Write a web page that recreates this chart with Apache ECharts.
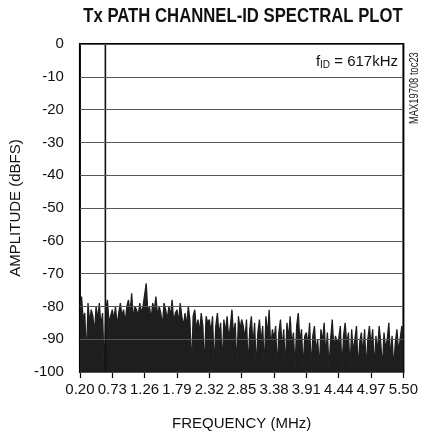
<!DOCTYPE html>
<html>
<head>
<meta charset="utf-8">
<script src="https://cdn.jsdelivr.net/npm/echarts@6/dist/echarts.min.js"></script>
<style>
html,body{margin:0;padding:0;background:#fff;}
#c{width:421px;height:436px;}
</style>
</head>
<body>
<div id="c"></div>
<script>
// ---- data ----
const titleText = 'Tx PATH CHANNEL-ID SPECTRAL PLOT';
const xTickLabels = ['0.20','0.73','1.26','1.79','2.32','2.85','3.38','3.91','4.44','4.97','5.50'];
const yTickLabels = ['0','-10','-20','-30','-40','-50','-60','-70','-80','-90','-100'];
const fStartMHz = 0.20;
const fStopMHz = 5.50;
const toneFreqMHz = 0.617;
const toneLevelDb = 0;
// noise floor amplitudes (dBFS), evenly spaced FFT bins from 0.20 to 5.50 MHz
const noiseDb = [
  -80,-77,-84,-82,-96,-79,-85,-81,-83,-88,-80,-84,-79,-86,-82,-99,-81,-78,-85,-83,
  -81,-84,-80,-86,-82,-79,-83,-81,-85,-80,-78,-82,-76,-84,-80,-81,-83,-79,-82,-80,
  -80,-73,-82,-80,-84,-79,-81,-77,-83,-80,-82,-86,-79,-81,-84,-80,-83,-78,-85,-82,
  -81,-85,-79,-83,-86,-82,-86,-80,-84,-99,-83,-81,-87,-84,-88,-82,-86,-99,-83,-85,
  -84,-88,-83,-99,-86,-82,-89,-85,-98,-84,-88,-83,-90,-86,-81,-89,-85,-99,-83,-87,
  -84,-86,-90,-84,-99,-87,-83,-92,-85,-99,-88,-84,-91,-86,-99,-83,-89,-81,-93,-87,
  -90,-86,-99,-88,-84,-93,-87,-99,-85,-90,-83,-92,-88,-99,-86,-82,-91,-87,-99,-89,
  -88,-92,-85,-99,-89,-86,-94,-90,-99,-87,-91,-85,-95,-88,-99,-90,-84,-93,-89,-91,
  -90,-86,-99,-89,-85,-92,-88,-99,-87,-94,-90,-86,-99,-91,-88,-95,-87,-99,-90,-86,
  -92,-87,-99,-89,-94,-86,-91,-99,-88,-93,-90,-85,-96,-89,-99,-91,-87,-94,-90,-86,-88
];

const FONT = "'Liberation Sans',Arial,sans-serif";
const binMHz = (fStopMHz - fStartMHz) / (noiseDb.length - 1);
const noiseData = noiseDb.map((v, i) => [i * binMHz, v]);
const toneData = [[toneFreqMHz - fStartMHz, -100], [toneFreqMHz - fStartMHz, toneLevelDb]];
const span = fStopMHz - fStartMHz;
const step = span / (xTickLabels.length - 1);

const chart = echarts.init(document.getElementById('c'), null, {renderer: 'canvas'});
chart.setOption({
  animation: false,
  backgroundColor: '#fff',
  graphic: [
    {type: 'text', x: 243, y: 16, scaleX: 0.835, style: {text: titleText, fontFamily: FONT, fontWeight: 'bold', fontSize: 20, fill: '#111', align: 'center', verticalAlign: 'middle'}},
    {type: 'text', x: 398, y: 62, style: {rich: {a: {fontFamily: FONT, fontSize: 15, fill: '#111'}, s: {fontFamily: FONT, fontSize: 10, fill: '#111', padding: [7,0,0,0]}}, text: '{a|f}{s|ID}{a| = 617kHz}', align: 'right', verticalAlign: 'middle'}},
    {type: 'text', x: 414.5, y: 124, rotation: Math.PI / 2, scaleX: 0.78, style: {text: 'MAX19708 toc23', fontFamily: FONT, fontSize: 12, fill: '#222', align: 'left', verticalAlign: 'middle'}}
  ],
  grid: {left: 79, right: 14, top: 44, bottom: 64, show: true, borderColor: '#000', borderWidth: 2, backgroundColor: 'transparent'},
  xAxis: {
    type: 'value', min: 0, max: span, interval: step,
    name: 'FREQUENCY (MHz)', nameLocation: 'middle', nameGap: 44,
    nameTextStyle: {fontFamily: FONT, fontSize: 15, color: '#111'},
    axisLine: {show: false, onZero: false},
    axisTick: {show: true, length: 6, lineStyle: {color: '#000', width: 1.2}},
    axisLabel: {fontFamily: FONT, fontSize: 15, color: '#111', margin: 10,
      formatter: (v) => { const i = Math.round(v / step); return xTickLabels[i] || ''; }},
    splitLine: {show: false}
  },
  yAxis: {
    type: 'value', min: -100, max: 0, interval: 10, z: 10,
    name: 'AMPLITUDE (dBFS)', nameLocation: 'middle', nameGap: 52,
    nameTextStyle: {fontFamily: FONT, fontSize: 15, color: '#111'},
    axisLine: {show: false}, axisTick: {show: false},
    axisLabel: {fontFamily: FONT, fontSize: 15, color: '#111', margin: 16,
      formatter: (v) => { const i = Math.round(-v / 10); return yTickLabels[i] || ''; }},
    splitLine: {show: true, lineStyle: {color: '#555', width: 1.2}}
  },
  series: [
    {
      type: 'line', data: noiseData, symbol: 'none', silent: true,
      lineStyle: {color: '#1e1e1e', width: 1.3},
      areaStyle: {color: '#1e1e1e', opacity: 1, origin: 'start'},
      z: 3
    },
    {
      type: 'line', data: toneData, symbol: 'none', silent: true,
      lineStyle: {color: '#111', width: 1.6}, z: 4
    }
  ]
});
</script>
</body>
</html>
